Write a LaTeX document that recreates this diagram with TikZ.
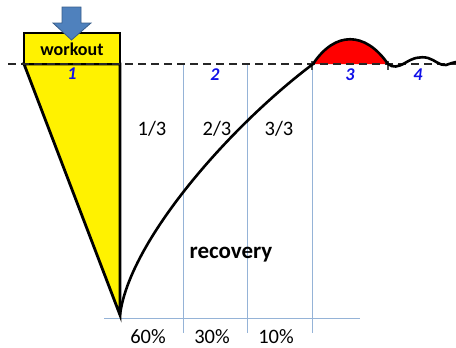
\documentclass[tikz,border=0pt]{standalone}
\usepackage{fontspec}
\setmainfont{Carlito}
\definecolor{gridblue}{HTML}{95B3D7}
\definecolor{arrowfill}{HTML}{4F81BD}
\definecolor{arrowline}{HTML}{385D8A}
\definecolor{numblue}{HTML}{1010E8}
\begin{document}
\begin{tikzpicture}[x=1pt,y=-1pt,
  grid/.style={draw=gridblue,line width=1pt},
  lbl/.style={font=\fontsize{20.5}{22}\selectfont,inner sep=0pt},
  num/.style={font=\fontsize{18}{20}\selectfont\bfseries\itshape,text=numblue,inner sep=0pt},
  curve/.style={line width=2.6pt,line cap=round,line join=round}]
\useasboundingbox (0,0) rectangle (456,348);
% grid lines
\draw[grid] (183,64) -- (183,333);
\draw[grid] (247.5,64) -- (247.5,333);
\draw[grid] (312,64) -- (312,333);
\draw[grid] (104,318) -- (360,318);
% red hump fill
\fill[red] (313,64) .. controls (335,31) and (365,31) .. (388,64) -- cycle;
% triangle
\filldraw[fill=yellow,line width=2.8pt,line join=miter] (24,64) -- (120,64) -- (120,315) -- cycle;
% workout box
\filldraw[fill=yellow,line width=2.4pt] (24,33) rectangle (120,64);
% dashed baseline
\draw[line width=1.5pt,dash pattern=on 8pt off 5pt,black!85] (8,64) -- (456,64);
% ticks
\draw[line width=1.2pt,black!70] (312,61) -- (312,70);
\draw[line width=1.2pt,black!70] (388,61) -- (388,70);
% recovery curve, hump, wave
\draw[curve] (120,315) .. controls (129,242) and (228,128) .. (313,64)
  .. controls (335,31) and (365,31) .. (388,64)
  .. controls (393,68) and (398,67) .. (405,63)
  .. controls (413,58) and (420,56) .. (428,58)
  .. controls (435,60) and (440,66) .. (446,65)
  .. controls (450,64) and (453,62) .. (456,62);
% arrow
\filldraw[fill=arrowfill,draw=arrowline,line width=0.8pt,line join=miter]
  (62,7) -- (81,7) -- (81,23) -- (91,23) -- (71.5,40) -- (53,23) -- (62,23) -- cycle;
% texts
\node[font=\fontsize{18}{20}\selectfont\bfseries,inner sep=0pt] (workout) at (72,49) {workout};
\node[num] (n1) at (72,74) {1};
\node[num] (n2) at (215,75) {2};
\node[num] (n3) at (350,75) {3};
\node[num] (n4) at (418,75) {4};
\node[lbl] (t1) at (152,129) {1/3};
\node[lbl] (t2) at (217,129) {2/3};
\node[lbl] (t3) at (279,129) {3/3};
\node[lbl] (p1) at (148,337) {60\%};
\node[lbl] (p2) at (212,337) {30\%};
\node[lbl] (p3) at (276,337) {10\%};
\node[font=\fontsize{23}{25}\selectfont\bfseries,inner sep=0pt] (rec) at (231,255) {recovery};
\end{tikzpicture}
\end{document}
